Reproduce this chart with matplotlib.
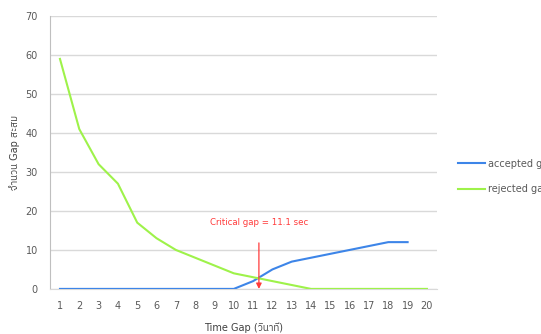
import matplotlib
matplotlib.use("Agg")
import matplotlib.pyplot as plt
from matplotlib import font_manager

time_gap = list(range(1, 21))
accepted = [0, 0, 0, 0, 0, 0, 0, 0, 0, 0, 2, 5, 7, 8, 9, 10, 11, 12, 12, None]
rejected = [59, 41, 32, 27, 17, 13, 10, 8, 6, 4, 3, 2, 1, 0, 0, 0, 0, 0, 0, 0]
critical_gap = 11.1
critical_x = 11.3
y_ticks = [0, 10, 20, 30, 40, 50, 60, 70]

# DejaVu for Latin text, with any installed Thai-capable family as fallback
thai = sorted({f.name for f in font_manager.fontManager.ttflist if 'Thai' in f.name})
plt.rcParams['font.family'] = ['DejaVu Sans'] + thai

fig = plt.figure(figsize=(5.41, 3.34), dpi=100)
ax = fig.add_axes([0.093, 0.135, 0.714, 0.817])

xs_acc = [x for x, v in zip(time_gap, accepted) if v is not None]
ys_acc = [v for v in accepted if v is not None]
ax.plot(xs_acc, ys_acc, color='#3d85e8', lw=1.5, label='accepted gap', zorder=3)
ax.plot(time_gap, rejected, color='#9ef24a', lw=1.5, label='rejected gap', zorder=3)

ax.set_xlim(0.5, 20.5)
ax.set_ylim(0, 70)
ax.set_xticks(time_gap)
ax.set_yticks(y_ticks)
ax.grid(axis='y', color='#d9d9d9', lw=1)
ax.set_axisbelow(True)
for s in ['top', 'right']:
    ax.spines[s].set_visible(False)
ax.spines['left'].set_color('#bfbfbf')
ax.spines['bottom'].set_color('#d9d9d9')
ax.tick_params(length=0, labelsize=7, colors='#595959', pad=9)

ax.annotate('', xy=(critical_x, 0), xytext=(critical_x, 11.8),
            arrowprops=dict(arrowstyle='-|>', color='#ff3b3b', lw=0.9,
                            mutation_scale=8, shrinkA=0, shrinkB=0), zorder=4)
ax.text(critical_x, 17, f'Critical gap = {critical_gap} sec', color='#ff3b3b',
        fontsize=6.2, ha='center', va='center')

ax.set_xlabel('Time Gap (วินาที)', fontsize=7, color='#404040', labelpad=8)
ax.set_ylabel('จำนวน Gap สะสม', fontsize=7, color='#404040', labelpad=4)

fig.legend(*ax.get_legend_handles_labels(), loc='center left',
           bbox_to_anchor=(458 / 541, 1 - 176.5 / 334), frameon=False,
           borderaxespad=0, borderpad=0, fontsize=7, labelcolor='#595959',
           handlelength=2.8, handletextpad=0.3, labelspacing=1.6)

fig.savefig('out.png', dpi=100)
